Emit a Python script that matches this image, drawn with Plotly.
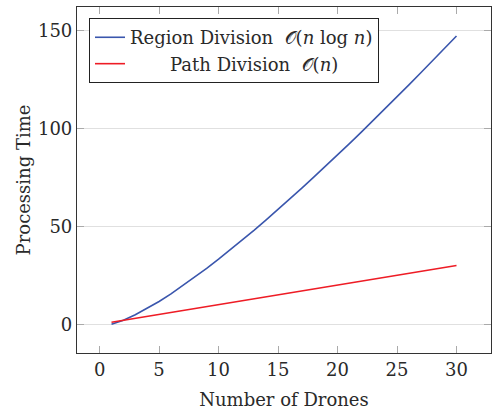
import plotly.graph_objects as go

drones = list(range(1, 31))
region_time = [0.0, 2.0, 4.8, 8.0, 11.6, 15.5, 19.7, 24.0, 28.5, 33.2,
               38.1, 43.0, 48.1, 53.3, 58.6, 64.0, 69.5, 75.1, 80.7, 86.4,
               92.2, 98.1, 104.0, 110.0, 116.1, 122.2, 128.4, 134.6, 140.9, 147.2]
path_time = [1, 2, 3, 4, 5, 6, 7, 8, 9, 10, 11, 12, 13, 14, 15,
             16, 17, 18, 19, 20, 21, 22, 23, 24, 25, 26, 27, 28, 29, 30]
x_ticks = [0, 5, 10, 15, 20, 25, 30]
y_ticks = [0, 50, 100, 150]

FONT = "'DejaVu Serif', 'Liberation Serif', serif"
TXT = "#2a2a2a"

fig = go.Figure()
fig.add_trace(go.Scatter(x=drones, y=region_time, mode="lines",
                         line=dict(color="#3a56ad", width=1.6),
                         name="Region Division  𝒪(<i>n</i> log <i>n</i>)"))
fig.add_trace(go.Scatter(x=drones, y=path_time, mode="lines",
                         line=dict(color="#ee1c25", width=1.6),
                         name="       Path Division  𝒪(<i>n</i>)"))

axis_common = dict(showline=True, linecolor="#333333", linewidth=1.2,
                   mirror="allticks", ticks="inside", ticklen=7,
                   tickcolor="#aaaaaa", tickwidth=1, zeroline=False,
                   tickfont=dict(family=FONT, size=18, color=TXT))

fig.update_layout(
    width=492, height=413,
    margin=dict(l=77, r=1, t=7, b=60),
    paper_bgcolor="white", plot_bgcolor="white",
    font=dict(family=FONT, size=18, color=TXT),
    showlegend=True,
    legend=dict(x=0.029, y=0.968, xanchor="left", yanchor="top",
                bgcolor="white", bordercolor="#222222", borderwidth=1,
                font=dict(family=FONT, size=18, color=TXT),
                itemwidth=30, tracegroupgap=0),
    xaxis=dict(range=[-1.9, 32.9], tickvals=x_ticks, showgrid=False,
               title=dict(text="Number of Drones", font=dict(family=FONT, size=18, color=TXT),
                          standoff=14),
               **axis_common),
    yaxis=dict(range=[-14.7, 162.0], tickvals=y_ticks, showgrid=True,
               gridcolor="#e0e0e0", gridwidth=1,
               title=dict(text="Processing Time", font=dict(family=FONT, size=18, color=TXT),
                          standoff=2),
               **axis_common),
)

fig.write_html("out.html")
